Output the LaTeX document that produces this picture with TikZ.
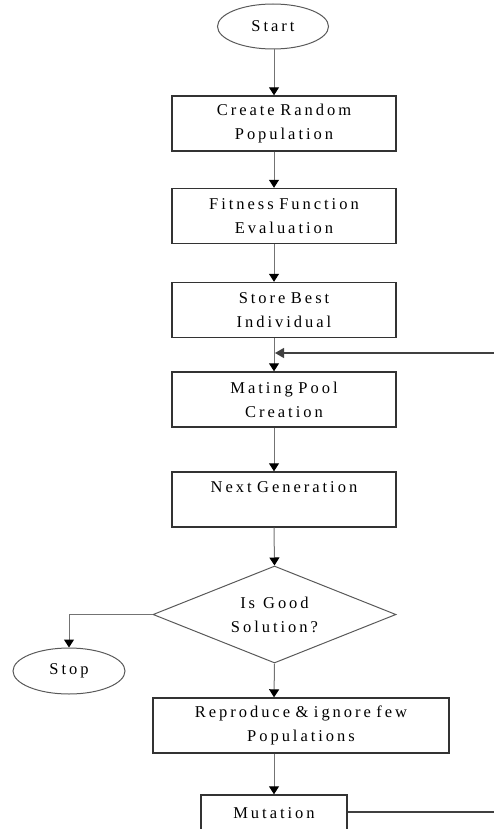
\documentclass[tikz,border=0pt]{standalone}
\usepackage{fontspec}
\setmainfont{Liberation Serif}
\usetikzlibrary{arrows.meta,shapes.geometric}
\newcommand\flowfont{\fontsize{16.5}{24}\selectfont\addfontfeatures{LetterSpace=18}\spaceskip=8pt\relax}
\begin{document}
\begin{tikzpicture}[x=1pt,y=-1pt,
  stepbox/.style={font=\flowfont, draw=black!80, line width=1.4pt, minimum width=224pt, minimum height=55pt, text width=218pt, align=center, inner sep=1pt},
  term/.style={font=\flowfont, draw=black!65, line width=1pt, ellipse, minimum width=111pt, minimum height=45pt, inner sep=0pt},
  decision/.style={font=\flowfont, draw=black!65, line width=1pt, diamond, minimum width=243pt, minimum height=97pt, aspect=2.5, inner sep=0pt, align=center},
  arr/.style={draw=black!55, line width=1pt, -{Triangle[width=10pt,length=8pt,fill=black,color=black]}},
  ln/.style={draw=black!75, line width=1.3pt}]
\useasboundingbox (0,0) rectangle (494,829);
\coordinate (ax) at (274,0);
\node[term] (start) at (273,26.5) {Start};
\node[stepbox] (b1) at (284,123.5) {Create Random\\Population};
\node[stepbox] (b2) at (284,216) {Fitness Function\\Evaluation};
\node[stepbox] (b3) at (284,310) {Store Best\\Individual};
\node[stepbox] (b4) at (284,399.5) {Mating Pool\\Creation};
\node[stepbox] (b5) at (284,499.5) {Next Generation\\\mbox{}};
\node[decision] (dia) at (274.5,614.5) {Is Good\\Solution?};
\node[term, minimum width=112pt, minimum height=46pt] (stop) at (69,671) {Stop};
\node[stepbox, minimum width=296pt, text width=290pt] (b6) at (301,725.5) {Reproduce \& ignore few\\Populations};
\node[stepbox, minimum width=146pt, text width=140pt, minimum height=40pt] (b7) at (274,815) {\raisebox{3pt}{Mutation}};
\coordinate (r1) at (494,812);
\coordinate (r2) at (494,353);
\coordinate (m1) at (275,353);
\draw[arr] (start.south -| ax) -- (b1.north -| ax);
\draw[arr] (b1.south -| ax) -- (b2.north -| ax);
\draw[arr] (b2.south -| ax) -- (b3.north -| ax);
\draw[arr] (b3.south -| ax) -- (b4.north -| ax);
\draw[arr] (b4.south -| ax) -- (b5.north -| ax);
\draw[arr] (b5.south -| ax) -- (dia.north);
\draw[arr] (dia.west) -| (stop.north);
\draw[arr] (dia.south) -- (b6.north -| ax);
\draw[arr] (b6.south -| ax) -- (b7.north -| ax);
\draw[ln] (b7.east |- r1) -- (r1);
\draw[ln, -{Triangle[width=10pt,length=9pt]}] (r2) -- (m1);
\end{tikzpicture}
\end{document}
